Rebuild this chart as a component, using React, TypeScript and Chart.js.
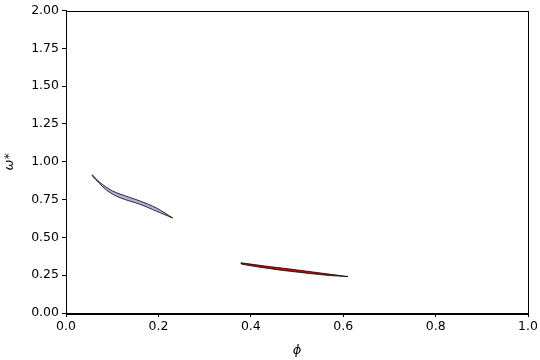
import React, { useEffect, useRef } from "react";
import { Chart, registerables } from "chart.js";

Chart.register(...registerables);

// Lavender region (upper / lower boundary)
const lavUpperX = [0.057, 0.073, 0.1, 0.138, 0.16, 0.196, 0.231];
const lavUpperY = [0.914, 0.864, 0.808, 0.764, 0.741, 0.694, 0.628];
const lavLowerX = [0.057, 0.088, 0.117, 0.16, 0.196, 0.231];
const lavLowerY = [0.906, 0.812, 0.762, 0.719, 0.673, 0.628];

// Red region (upper / lower boundary)
const redUpperX = [0.379, 0.43, 0.484, 0.55, 0.61];
const redUpperY = [0.332, 0.311, 0.291, 0.265, 0.241];
const redLowerX = [0.379, 0.43, 0.484, 0.57, 0.61];
const redLowerY = [0.324, 0.298, 0.276, 0.248, 0.241];

const xTicks = [0, 0.2, 0.4, 0.6, 0.8, 1.0];
const yTicks = [0, 0.25, 0.5, 0.75, 1.0, 1.25, 1.5, 1.75, 2.0];

function polygon(ux: number[], uy: number[], lx: number[], ly: number[]) {
  const pts = ux.map((x, i) => ({ x, y: uy[i] }));
  for (let i = lx.length - 1; i >= 0; i--) pts.push({ x: lx[i], y: ly[i] });
  pts.push({ x: ux[0], y: uy[0] });
  return pts;
}

const frame = {
  id: "frame",
  afterDatasetsDraw(chart: any) {
    const { ctx, chartArea: a } = chart;
    ctx.save();
    ctx.strokeStyle = "#000";
    ctx.lineWidth = 1;
    ctx.strokeRect(Math.round(a.left) + 0.5, Math.round(a.top) + 0.5, Math.round(a.right - a.left), Math.round(a.bottom - a.top));
    ctx.restore();
  },
};

export default function App() {
  const ref = useRef<HTMLCanvasElement>(null);
  useEffect(() => {
    const font = { family: "DejaVu Sans", size: 12.5 };
    const chart = new Chart(ref.current!, {
      type: "scatter",
      data: {
        datasets: [
          {
            data: polygon(lavUpperX, lavUpperY, lavLowerX, lavLowerY),
            showLine: true,
            fill: "shape",
            backgroundColor: "rgb(176,176,226)",
            borderColor: "#000",
            borderWidth: 0.8,
            pointRadius: 0,
            tension: 0.3,
          },
          {
            data: polygon(redUpperX, redUpperY, redLowerX, redLowerY),
            showLine: true,
            fill: "shape",
            backgroundColor: "rgb(220,0,0)",
            borderColor: "#000",
            borderWidth: 0.8,
            pointRadius: 0,
            tension: 0.3,
          },
        ] as any,
      },
      options: {
        animation: false,
        responsive: false,
        maintainAspectRatio: false,
        layout: { padding: { left: 0, top: 6, right: 11, bottom: 0 } },
        plugins: { legend: { display: false }, tooltip: { enabled: false } },
        scales: {
          x: {
            type: "linear",
            min: 0,
            max: 1,
            afterBuildTicks: (s: any) => {
              s.ticks = xTicks.map((v) => ({ value: v }));
            },
            afterFit: (s: any) => {
              s.height = 47;
            },
            ticks: { color: "#000", font, padding: 2, callback: (v: any) => Number(v).toFixed(1), maxRotation: 0 },
            grid: { drawOnChartArea: false, drawTicks: true, tickLength: 4, color: "#000" },
            border: { display: true, color: "#000" },
            title: { display: true, text: "ϕ", color: "#000", font: { family: "DejaVu Sans", size: 13, style: "italic" }, padding: { top: 4, bottom: 2 } },
          },
          y: {
            type: "linear",
            min: 0,
            max: 2,
            afterBuildTicks: (s: any) => {
              s.ticks = yTicks.map((v) => ({ value: v }));
            },
            afterFit: (s: any) => {
              s.width = 66;
            },
            ticks: { color: "#000", font, padding: 3, callback: (v: any) => Number(v).toFixed(2) },
            grid: { drawOnChartArea: false, drawTicks: true, tickLength: 4, color: "#000" },
            border: { display: true, color: "#000" },
            title: { display: true, text: "ω*", color: "#000", font: { family: "DejaVu Sans", size: 13, style: "italic" }, padding: { top: 2, bottom: 4 } },
          },
        },
      },
      plugins: [frame],
    });
    return () => chart.destroy();
  }, []);
  return (
    <div style={{ position: "fixed", left: 0, top: 0, width: 540, height: 360, background: "#fff" }}>
      <canvas ref={ref} width={540} height={360} style={{ width: 540, height: 360 }} />
    </div>
  );
}
